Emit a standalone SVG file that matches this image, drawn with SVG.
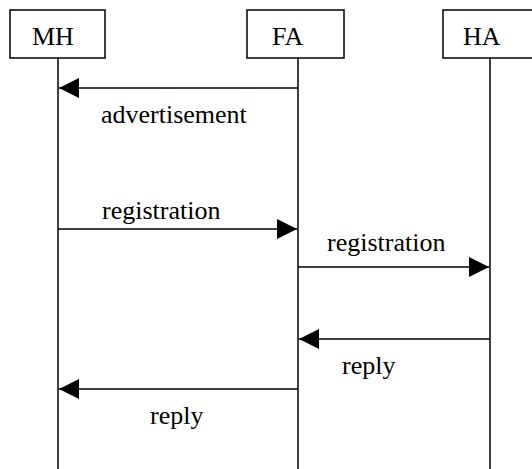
<svg xmlns="http://www.w3.org/2000/svg" width="532" height="469" viewBox="0 0 532 469">
  <style>
    .box { fill: #ffffff; stroke: #000000; stroke-width: 1.5; }
    .life { stroke: #000000; stroke-width: 1.5; fill: none; }
    .msg { stroke: #000000; stroke-width: 1.5; fill: none; marker-end: url(#head); }
    .lbl { font-family: "Liberation Serif", "Times New Roman", serif; font-size: 26px; fill: #000000; }
  </style>
  <defs>
    <marker id="head" markerUnits="userSpaceOnUse" markerWidth="20" markerHeight="20" refX="20" refY="10" orient="auto">
      <path d="M0,0 L20,10 L0,20 Z" fill="#000000"/>
    </marker>
  </defs>
  <rect width="532" height="469" fill="#ffffff"/>

  <!-- participants -->
  <g id="MH">
    <rect class="box" x="10" y="10" width="95" height="48"/>
    <line class="life" x1="58" y1="58" x2="58" y2="469"/>
    <text class="lbl" x="32" y="45">MH</text>
  </g>
  <g id="FA">
    <rect class="box" x="247" y="10" width="97" height="48"/>
    <line class="life" x1="298" y1="58" x2="298" y2="469"/>
    <text class="lbl" x="272" y="45">FA</text>
  </g>
  <g id="HA">
    <rect class="box" x="443" y="10" width="100" height="48"/>
    <line class="life" x1="490" y1="58" x2="490" y2="469"/>
    <text class="lbl" x="463" y="45">HA</text>
  </g>

  <!-- messages -->
  <g id="connectors">
    <line class="msg" x1="298" y1="88" x2="59" y2="88"/>
    <line class="msg" x1="58" y1="229" x2="297" y2="229"/>
    <line class="msg" x1="298" y1="267" x2="489" y2="267"/>
    <line class="msg" x1="490" y1="339" x2="299" y2="339"/>
    <line class="msg" x1="298" y1="389" x2="59" y2="389"/>
  </g>

  <g id="labels">
    <text class="lbl" x="101" y="123">advertisement</text>
    <text class="lbl" x="102" y="219">registration</text>
    <text class="lbl" x="327" y="251">registration</text>
    <text class="lbl" x="342" y="374">reply</text>
    <text class="lbl" x="150" y="424">reply</text>
  </g>
</svg>
